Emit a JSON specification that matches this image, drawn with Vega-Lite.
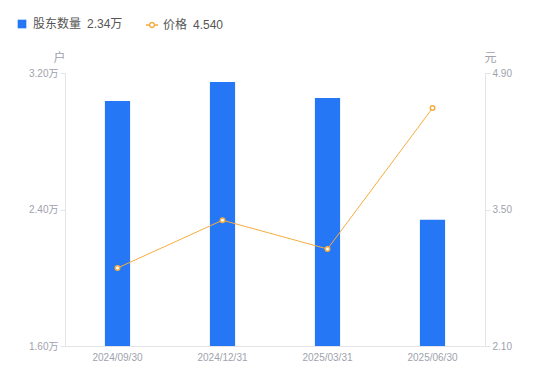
{
  "$schema": "https://vega.github.io/schema/vega-lite/v6.json",
  "width": 420,
  "height": 273,
  "autosize": {"type": "none"},
  "padding": {"left": 65, "top": 73, "right": 65, "bottom": 35},
  "config": {
    "view": {"stroke": null},
    "font": "Liberation Sans, Noto Sans CJK SC",
    "axis": {"grid": false, "domainColor": "#e3e3e8", "tickColor": "#e3e3e8", "labelColor": "#a0a2ad", "labelFontSize": 10, "titleColor": "#a0a2ad", "titleFontWeight": "normal", "titleFontSize": 12}
  },
  "data": {
    "values": [
      {"date": "2024/09/30", "holders": 3.036, "price": 2.90},
      {"date": "2024/12/31", "holders": 3.147, "price": 3.39},
      {"date": "2025/03/31", "holders": 3.053, "price": 3.095},
      {"date": "2025/06/30", "holders": 2.34, "price": 4.54}
    ]
  },
  "encoding": {
    "x": {
      "field": "date", "type": "ordinal", "sort": null,
      "scale": {"paddingInner": 0, "paddingOuter": 0},
      "axis": {"title": null, "ticks": false, "labelAngle": 0, "labelPadding": 6}
    }
  },
  "layer": [
    {
      "mark": {"type": "bar", "width": {"band": 0.24}, "clip": true},
      "encoding": {
        "y": {
          "field": "holders", "type": "quantitative",
          "scale": {"domain": [1.6, 3.2], "zero": false},
          "axis": {"values": [1.6, 2.4, 3.2], "labelExpr": "format(datum.value, '.2f') + '万'", "title": "户", "titleAngle": 0, "titleX": -6, "titleY": -16, "titleAlign": "center", "titleBaseline": "middle", "tickSize": 5, "labelPadding": 2}
        },
        "y2": {"datum": 1.6},
        "fill": {
          "datum": "股东数量", "type": "nominal",
          "scale": {"domain": ["股东数量"], "range": ["#2577f5"]},
          "legend": {"title": null, "orient": "none", "legendX": -49, "legendY": -55, "symbolType": "square", "symbolSize": 75, "labelOffset": 5, "labelExpr": "datum.label + '\u20022.34万'", "labelColor": "#555555", "labelFontSize": 12}
        }
      }
    },
    {
      "mark": {"type": "line", "strokeWidth": 1},
      "encoding": {
        "y": {
          "field": "price", "type": "quantitative",
          "scale": {"domain": [2.1, 4.9], "zero": false},
          "axis": {"orient": "right", "values": [2.1, 3.5, 4.9], "format": ".2f", "title": "元", "titleAngle": 0, "titleX": 5, "titleY": -16, "titleAlign": "center", "titleBaseline": "middle", "tickSize": 5, "labelPadding": 2}
        },
        "stroke": {
          "datum": "价格", "type": "nominal",
          "scale": {"domain": ["价格"], "range": ["#f6ad40"]},
          "legend": {"title": null, "orient": "none", "legendX": 80, "legendY": -55, "symbolType": "M-1,0H-0.4M0.4,0H1M0.4,0A0.4,0.4 0 1,1 -0.4,0A0.4,0.4 0 1,1 0.4,0Z", "symbolSize": 150, "symbolStrokeWidth": 1.5, "symbolFillColor": "white", "labelOffset": 4, "labelExpr": "datum.label + '\u20024.540'", "labelColor": "#555555", "labelFontSize": 12}
        }
      }
    },
    {
      "mark": {"type": "point", "filled": true, "fill": "white", "stroke": "#f6ad40", "strokeWidth": 1.5, "size": 20, "opacity": 1},
      "encoding": {
        "y": {
          "field": "price", "type": "quantitative",
          "scale": {"domain": [2.1, 4.9], "zero": false},
          "axis": null
        }
      }
    }
  ],
  "resolve": {"scale": {"y": "independent", "fill": "independent", "stroke": "independent"}}
}
